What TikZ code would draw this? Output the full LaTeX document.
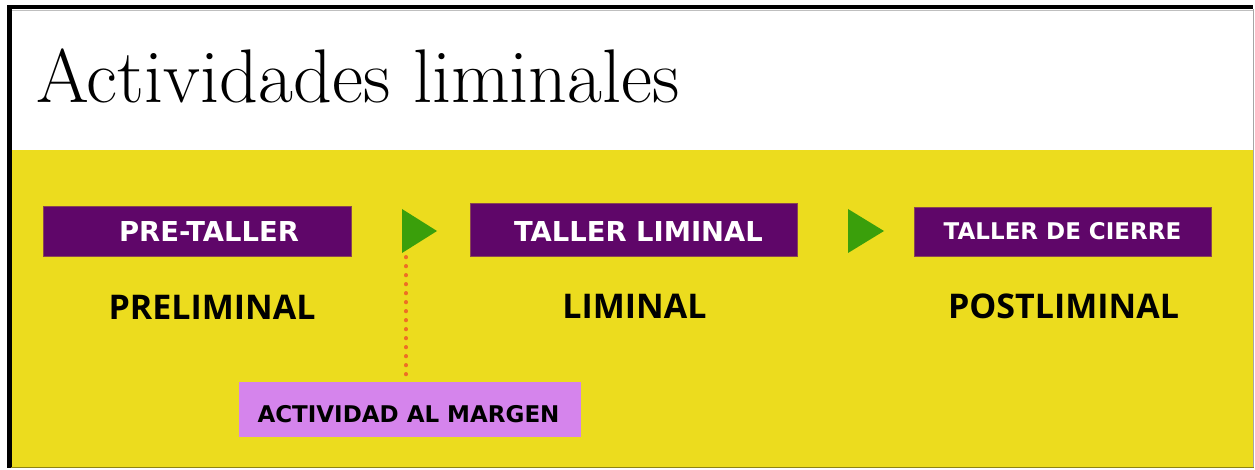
\documentclass[tikz,border=0pt]{standalone}
\usepackage{fontspec}
\newfontfamily\labelfont{DejaVu Sans}[BoldFont={* Bold}]
\newfontfamily\phasefont{Open Sans}
\definecolor{bandyellow}{HTML}{ECDC1E}
\definecolor{boxpurple}{HTML}{5F0669}
\definecolor{boxlilac}{HTML}{D584EC}
\definecolor{arrowgreen}{HTML}{3A9F0B}
\definecolor{dotorange}{HTML}{EE6F24}
\tikzset{
  pbox/.style={rectangle, fill=boxpurple, draw=boxpurple!70!bandyellow, line width=0.6pt, inner sep=0pt},
  mbox/.style={rectangle, fill=boxlilac, inner sep=0pt},
  wlabel/.style={anchor=base, text=white, inner sep=0pt, font=\labelfont\bfseries\fontsize{27.4}{30}\selectfont},
  phase/.style={anchor=base, text=black, inner sep=0pt, font=\phasefont\bfseries\fontsize{34}{38}\selectfont},
  playarrow/.style={fill=arrowgreen},
  dotline/.style={dotorange, line width=4pt, line cap=round, dash pattern=on 0.3pt off 8.7pt}
}
\begin{document}
\begin{tikzpicture}[x=1pt, y=-1pt]
  \useasboundingbox (0,0) rectangle (1255,470);
  % page background, frame and yellow band
  \fill[white] (0,0) rectangle (1255,470);
  \fill[bandyellow] (11,150) rectangle (1253,467);
  \fill[black] (7,5) rectangle (1253,9.5);
  \fill[black] (7,5) rectangle (11.5,468);
  \draw[black!35, line width=1.2pt] (1253.5,9) -- (1253.5,468);
  \draw[bandyellow!60!black, line width=1.5pt] (11,467.5) -- (1254,467.5);
  \draw[black!25, line width=0.8pt] (12,10) -- (1253,10);

  % title
  \node[anchor=base west, inner sep=0pt, font=\fontsize{76}{86}\selectfont] (title) at (36,103) {Actividades liminales};

  % purple stage boxes
  \node[pbox, minimum width=308pt, minimum height=50pt] (pre) at (197,231) {};
  \node[wlabel] (preT) at (209,242) {PRE-TALLER};
  \node[pbox, minimum width=327pt, minimum height=53pt] (lim) at (633.5,229.5) {};
  \node[wlabel] (limT) at (638.5,242) {TALLER LIMINAL};
  \node[pbox, minimum width=297pt, minimum height=49pt] (post) at (1062.5,231.5) {};
  \node[wlabel, font=\labelfont\bfseries\fontsize{23}{26}\selectfont] (postT) at (1062.5,240) {TALLER DE CIERRE};

  % phase names
  \node[phase] (ph1) at (212,319) {PRELIMINAL};
  \node[phase] (ph2) at (634.5,318) {LIMINAL};
  \node[phase] (ph3) at (1063.5,318) {POSTLIMINAL};

  % green play arrows between stages
  \fill[playarrow] (402,209) -- (437,231) -- (402,253) -- cycle;
  \fill[playarrow] (848,209) -- (884,231) -- (848,253) -- cycle;
  \coordinate (arrowfoot) at (406,257);

  % side activity box and its dotted link
  \node[mbox, minimum width=342pt, minimum height=55pt] (margin) at (410,409.5) {};
  \node[anchor=base, inner sep=0pt, font=\labelfont\bfseries\fontsize{23}{26}\selectfont] (marginT) at (408.5,422) {ACTIVIDAD AL MARGEN};
  \draw[dotline] (arrowfoot) -- (arrowfoot |- margin.north);
\end{tikzpicture}
\end{document}
